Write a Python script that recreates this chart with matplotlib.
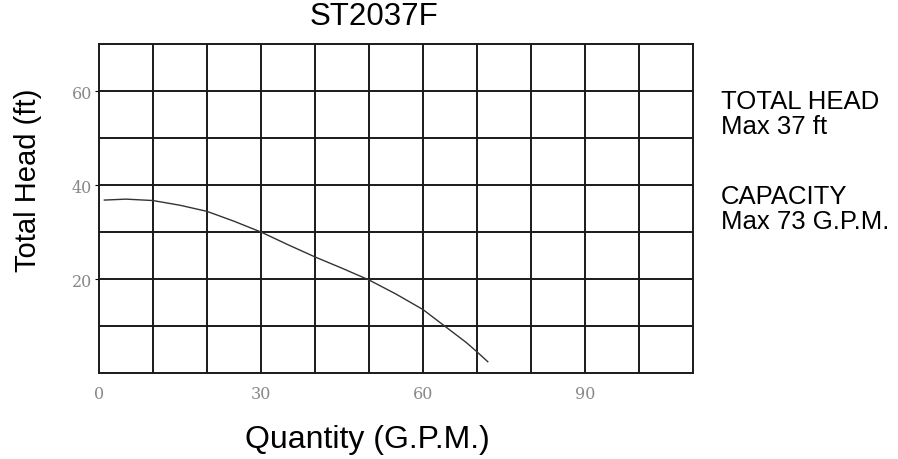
"""
Pump Performance Curve.

Recreates the ST2037F total head vs. quantity chart with a square grid
and the max head / capacity notes on the right.
"""

import matplotlib
matplotlib.use("Agg")
import matplotlib.pyplot as plt

# curve
quantity_gpm = [1, 5, 10, 15, 20, 25, 30, 35, 40, 45, 50, 55, 60, 64, 68, 70, 72]
total_head_ft = [36.8, 37.0, 36.7, 35.7, 34.4, 32.3, 30.0, 27.3, 24.7, 22.3,
                 19.8, 16.8, 13.5, 10.0, 6.5, 4.5, 2.4]

x_ticks = [0, 30, 60, 90]
y_ticks = [20, 40, 60]
head_note = ["TOTAL HEAD", "Max 37 ft"]
capacity_note = ["CAPACITY", "Max 73 G.P.M."]


def generate_curve_chart():
    """Draws the head/quantity curve and saves it as out.png."""
    plt.rcParams["font.family"] = ["Liberation Sans", "DejaVu Sans"]

    fig = plt.figure(figsize=(8.98, 4.60), dpi=100)
    ax = fig.add_axes([0.1102, 0.187, 0.6615, 0.715])

    # square grid every 10 units
    for x in range(10, 110, 10):
        ax.axvline(x, color="#1a1a1a", linewidth=1.4, zorder=1)
    for y in range(10, 70, 10):
        ax.axhline(y, color="#1a1a1a", linewidth=1.4, zorder=1)

    ax.plot(quantity_gpm, total_head_ft, color="#333333", linewidth=1.0, zorder=2)

    ax.set_xlim(0, 110)
    ax.set_ylim(0, 70)
    for spine in ax.spines.values():
        spine.set_color("#1a1a1a")
        spine.set_linewidth(1.4)

    ax.set_xticks(x_ticks)
    ax.set_yticks(y_ticks)
    ax.tick_params(axis="x", length=0, pad=9, labelsize=11.5, labelcolor="#888888")
    ax.tick_params(axis="y", length=3, pad=2, labelsize=11.5, labelcolor="#888888")
    for lbl in ax.get_xticklabels() + ax.get_yticklabels():
        lbl.set_family("DejaVu Serif")

    fig.text(0.4087, 0.043, "Quantity (G.P.M.)", fontsize=23, ha="center", va="center")
    fig.text(0.031, 0.609, "Total Head (ft)", fontsize=21, ha="center", va="center",
             rotation=90)

    fig.text(0.4165, 0.962, "ST2037F", fontsize=22.5, ha="center", va="center")
    fig.text(0.803, 0.805, "\n".join(head_note), fontsize=18.5, ha="left", va="top",
             linespacing=1.05)
    fig.text(0.803, 0.598, "\n".join(capacity_note), fontsize=18.5, ha="left",
             va="top", linespacing=1.05)

    fig.savefig("out.png", dpi=100)


if __name__ == "__main__":
    generate_curve_chart()
